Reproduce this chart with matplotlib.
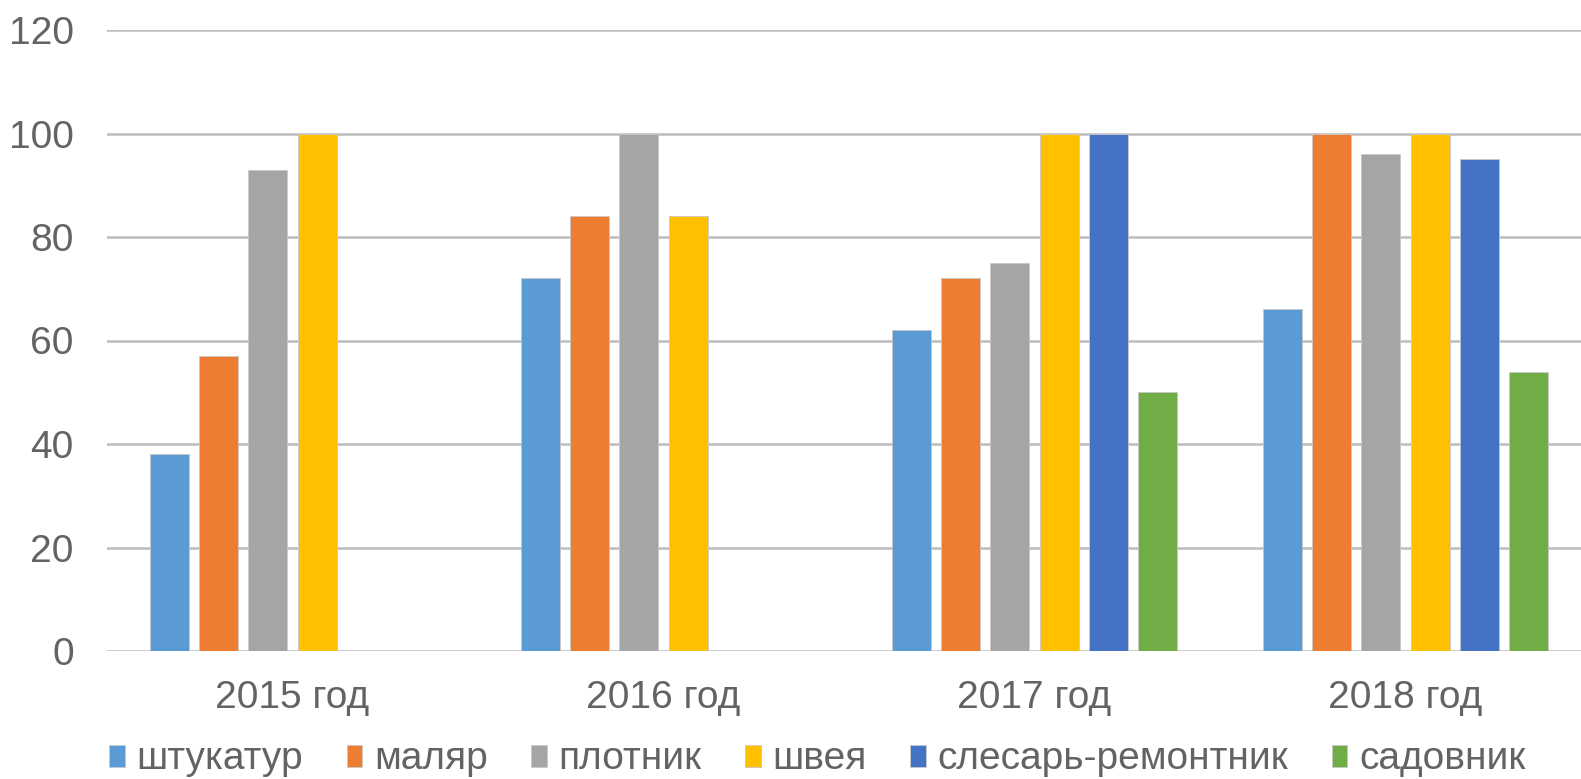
import numpy as np
import matplotlib
matplotlib.use('Agg')
import matplotlib.pyplot as plt

plt.rcParams['font.family'] = ['Liberation Sans', 'DejaVu Sans']

years = ['2015 год', '2016 год', '2017 год', '2018 год']
series = ['штукатур', 'маляр', 'плотник', 'швея', 'слесарь-ремонтник', 'садовник']
colors = ['#5B9BD5', '#ED7D31', '#A5A5A5', '#FFC000', '#4472C4', '#70AD47']

shtukatur = [38, 72, 62, 66]
malyar = [57, 84, 72, 100]
plotnik = [93, 100, 75, 96]
shveya = [100, 84, 100, 100]
slesar = [np.nan, np.nan, 100, 95]
sadovnik = [np.nan, np.nan, 50, 54]
values = [shtukatur, malyar, plotnik, shveya, slesar, sadovnik]

fig = plt.figure(figsize=(15.81, 7.79), dpi=100)
ax = fig.add_axes([107 / 1581, 128 / 779, 1484 / 1581, 621 / 779])

x = np.arange(len(years))
slot = 0.133
bar_w = 0.105
for i, (name, vals) in enumerate(zip(series, values)):
    ax.bar(x + (i - 2.5) * slot, vals, width=bar_w, color=colors[i], label=name,
           edgecolor='#C8C8C8', linewidth=0.6, zorder=3)

ax.set_xlim(-0.5, 3.5)
ax.set_ylim(0, 120)
ax.set_yticks(range(0, 121, 20))
ax.set_xticks(x)
ax.set_xticklabels(years)
ax.grid(axis='y', color='#BCBCBC', linewidth=1.8, zorder=0)
for s in ax.spines.values():
    s.set_visible(False)
ax.tick_params(axis='both', length=0, labelsize=28, labelcolor='#636363')
ax.tick_params(axis='y', pad=24)
ax.tick_params(axis='x', pad=21)

# legend under the chart
fig.legend(loc='lower center', bbox_to_anchor=(0.517, -0.043), ncol=6, frameon=False,
           fontsize=28, labelcolor='#636363', handlelength=0.4, handleheight=0.5,
           handletextpad=0.3, columnspacing=1.12)

fig.savefig('out.png', dpi=100)
